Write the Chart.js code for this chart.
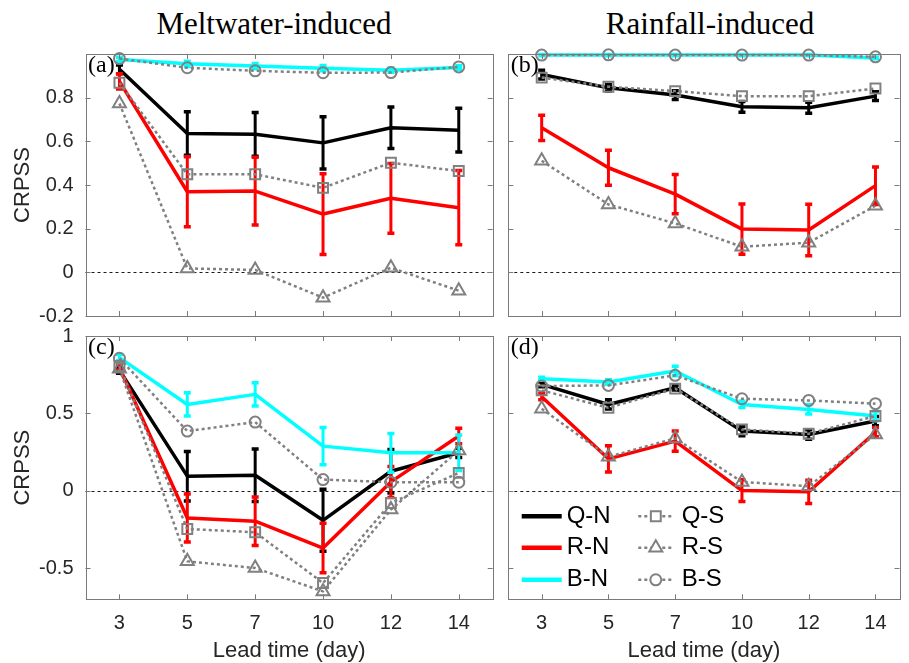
<!DOCTYPE html>
<html>
<head>
<meta charset="utf-8">
<script src="https://cdn.jsdelivr.net/npm/chart.js@4.4.1/dist/chart.umd.min.js"></script>
<style>
html,body{margin:0;padding:0;background:#fff;}
#wrap{position:relative;width:909px;height:663px;overflow:hidden;background:#fff;}
canvas{position:absolute;left:0;top:0;pointer-events:none;}
.ttl{position:absolute;font-family:"Liberation Serif","Times New Roman",serif;font-size:31px;line-height:31px;color:#000;white-space:nowrap;transform:translateX(-50%);}
</style>
</head>
<body>
<div id="wrap">
<div class="ttl" style="left:274px;top:8px">Meltwater-induced</div>
<div class="ttl" style="left:710px;top:8px">Rainfall-induced</div>
<canvas id="ca" width="909" height="663"></canvas>
<canvas id="cb" width="909" height="663"></canvas>
<canvas id="cc" width="909" height="663"></canvas>
<canvas id="cd" width="909" height="663"></canvas>
</div>
<script>
// ---------------- DATA ----------------
const leadTimes = ['3', '5', '7', '10', '12', '14'];
const seriesNames = ['Q-N', 'R-N', 'B-N', 'Q-S', 'R-S', 'B-S'];
const ticksUpper = [-0.2, 0, 0.2, 0.4, 0.6, 0.8];
const ticksLower = [-0.5, 0, 0.5, 1];

// (a) Meltwater-induced, upper
const aQN = [0.93, 0.636, 0.632, 0.593, 0.662, 0.651];
const aQN_err = [0.02, 0.10, 0.10, 0.12, 0.095, 0.10];
const aRN = [0.875, 0.369, 0.372, 0.267, 0.339, 0.296];
const aRN_err = [0.035, 0.16, 0.155, 0.185, 0.16, 0.17];
const aBN = [0.975, 0.955, 0.945, 0.935, 0.926, 0.938];
const aBN_err = [0.01, 0.012, 0.012, 0.012, 0.01, 0.008];
const aQS = [0.868, 0.449, 0.449, 0.387, 0.502, 0.464];
const aRS = [0.773, 0.018, 0.011, -0.116, 0.021, -0.084];
const aBS = [0.979, 0.937, 0.923, 0.914, 0.915, 0.941];

// (b) Rainfall-induced, upper
const bQN = [0.906, 0.845, 0.812, 0.758, 0.754, 0.807];
const bQN_err = [0.02, 0.015, 0.02, 0.025, 0.025, 0.02];
const bRN = [0.662, 0.479, 0.358, 0.198, 0.194, 0.397];
const bRN_err = [0.058, 0.08, 0.09, 0.115, 0.118, 0.086];
const bBN = [0.995, 0.995, 0.995, 0.995, 0.995, 0.982];
const bBN_err = [0.003, 0.003, 0.003, 0.003, 0.003, 0.004];
const bQS = [0.892, 0.85, 0.83, 0.807, 0.807, 0.842];
const bRS = [0.511, 0.311, 0.224, 0.117, 0.136, 0.305];
const bBS = [0.995, 0.996, 0.995, 0.995, 0.995, 0.987];

// (c) Meltwater-induced, lower
const cQN = [0.78, 0.095, 0.101, -0.19, 0.127, 0.246];
const cQN_err = [0.02, 0.16, 0.17, 0.2, 0.14, 0.03];
const cRN = [0.796, -0.175, -0.196, -0.369, 0.058, 0.354];
const cRN_err = [0.02, 0.155, 0.156, 0.16, 0.1, 0.05];
const cBN = [0.86, 0.558, 0.623, 0.289, 0.246, 0.246];
const cBN_err = [0.02, 0.075, 0.075, 0.12, 0.125, 0.115];
const cQS = [0.806, -0.246, -0.267, -0.595, -0.078, 0.116];
const cRS = [0.789, -0.455, -0.498, -0.649, -0.121, 0.261];
const cBS = [0.856, 0.386, 0.444, 0.073, 0.056, 0.056];

// (d) Rainfall-induced, lower
const dQN = [0.688, 0.558, 0.666, 0.386, 0.364, 0.451];
const dQN_err = [0.015, 0.03, 0.015, 0.03, 0.03, 0.03];
const dRN = [0.608, 0.207, 0.321, 0.002, -0.006, 0.379];
const dRN_err = [0.02, 0.085, 0.065, 0.07, 0.075, 0.03];
const dBN = [0.724, 0.703, 0.774, 0.558, 0.526, 0.483];
const dBN_err = [0.01, 0.015, 0.03, 0.02, 0.03, 0.03];
const dQS = [0.649, 0.537, 0.66, 0.397, 0.369, 0.483];
const dRS = [0.53, 0.22, 0.339, 0.058, 0.03, 0.364];
const dBS = [0.677, 0.681, 0.746, 0.595, 0.584, 0.563];

// ---------------- STYLES ----------------
const GRAY = '#808080';
const STYLES = [
  {color: '#000000', width: 3.5, dash: []},
  {color: '#ff0000', width: 3.5, dash: []},
  {color: '#00ffff', width: 3.5, dash: []},
  {color: GRAY, width: 2.5, dash: [3, 3], marker: 'rect', radius: 7},
  {color: GRAY, width: 2.5, dash: [3, 3], marker: 'triangle', radius: 7.5},
  {color: GRAY, width: 2.5, dash: [3, 3], marker: 'circle', radius: 5.5}
];
const SANS = '"Liberation Sans", Arial, sans-serif';
const SERIF = '"Liberation Serif", "Times New Roman", serif';
Chart.defaults.font.family = SANS;
Chart.defaults.color = '#262626';

const W = 909, H = 663;

// ---------------- PLUGINS ----------------
const errorBars = {
  id: 'errorBars',
  afterDatasetDraw(chart, args) {
    const ds = chart.data.datasets[args.index];
    if (!ds.errors) return;
    const {ctx} = chart;
    const xs = chart.scales.x, ys = chart.scales.y;
    ctx.save();
    ctx.strokeStyle = ds.borderColor;
    ctx.lineCap = 'butt';
    ds.data.forEach((p, j) => {
      const e = ds.errors[j];
      const px = xs.getPixelForValue(p.x);
      const y1 = ys.getPixelForValue(p.y - e);
      const y2 = ys.getPixelForValue(p.y + e);
      ctx.lineWidth = 3;
      ctx.beginPath();
      ctx.moveTo(px, y1); ctx.lineTo(px, y2);
      ctx.stroke();
      ctx.lineWidth = 3.5;
      ctx.beginPath();
      ctx.moveTo(px - 3.5, y1); ctx.lineTo(px + 3.5, y1);
      ctx.moveTo(px - 3.5, y2); ctx.lineTo(px + 3.5, y2);
      ctx.stroke();
    });
    ctx.restore();
  }
};

const frame = {
  id: 'frame',
  beforeDatasetsDraw(chart) {
    const {ctx, chartArea: a} = chart;
    const y0 = Math.round(chart.scales.y.getPixelForValue(0)) + 0.5;
    ctx.save();
    ctx.strokeStyle = '#1a1a1a';
    ctx.lineWidth = 1;
    ctx.setLineDash([3, 3]);
    ctx.beginPath();
    ctx.moveTo(a.left, y0); ctx.lineTo(a.right, y0);
    ctx.stroke();
    ctx.restore();
  },
  afterDraw(chart, args, opts) {
    const {ctx, chartArea: a} = chart;
    const xs = chart.scales.x, ys = chart.scales.y;
    ctx.save();
    ctx.strokeStyle = '#7a7a7a';
    ctx.lineWidth = 1;
    ctx.strokeRect(Math.round(a.left) + 0.5, Math.round(a.top) + 0.5,
      Math.round(a.right) - Math.round(a.left), Math.round(a.bottom) - Math.round(a.top));
    const TL = 5;
    ctx.beginPath();
    xs.ticks.forEach(t => {
      const px = Math.round(xs.getPixelForValue(t.value)) + 0.5;
      ctx.moveTo(px, a.top); ctx.lineTo(px, a.top + TL);
      ctx.moveTo(px, a.bottom); ctx.lineTo(px, a.bottom - TL);
    });
    ys.ticks.forEach(t => {
      const py = Math.round(ys.getPixelForValue(t.value)) + 0.5;
      ctx.moveTo(a.left, py); ctx.lineTo(a.left + TL, py);
      ctx.moveTo(a.right, py); ctx.lineTo(a.right - TL, py);
    });
    ctx.stroke();
    // panel label
    ctx.fillStyle = '#000';
    ctx.font = '24px ' + SERIF;
    ctx.textBaseline = 'alphabetic';
    ctx.textAlign = 'left';
    ctx.fillText(opts.label, a.left + 2.5, a.top + 18);
    // legend
    if (opts.legend) {
      const rows = [a.bottom - 83, a.bottom - 51.5, a.bottom - 19.5];
      ctx.font = '24px ' + SANS;
      ctx.textBaseline = 'middle';
      chart.data.datasets.forEach((ds, i) => {
        const st = STYLES[i];
        const col = Math.floor(i / 3), row = i % 3;
        const y = rows[row];
        const x0 = a.left + (col === 0 ? 13.4 : 130);
        const x1 = a.left + (col === 0 ? 53.4 : 165);
        ctx.save();
        ctx.strokeStyle = st.color;
        ctx.lineWidth = col === 0 ? 4.5 : 2.5;
        ctx.setLineDash(st.dash);
        ctx.beginPath();
        ctx.moveTo(x0, y); ctx.lineTo(x1, y);
        ctx.stroke();
        ctx.restore();
        if (st.marker) {
          ctx.save();
          ctx.strokeStyle = st.color;
          ctx.fillStyle = '#ffffff';
          ctx.lineWidth = 2;
          Chart.helpers.drawPoint(ctx, {pointStyle: st.marker, radius: st.radius, rotation: 0, borderWidth: 2}, (x0 + x1) / 2, y);
          ctx.restore();
        }
        ctx.fillStyle = '#000';
        ctx.fillText(ds.label, a.left + (col === 0 ? 58.4 : 173.4), y);
      });
    }
    ctx.restore();
  }
};

function fmtTick(v) {
  return String(Math.round(v * 10) / 10);
}

function makeChart(id, p) {
  const ds = seriesNames.map((name, i) => {
    const st = STYLES[i];
    return {
      label: name,
      data: p.vals[i].map((v, j) => ({x: j + 1, y: v})),
      errors: i < 3 ? p.errs[i] : null,
      borderColor: st.color,
      backgroundColor: 'rgba(0,0,0,0)',
      borderWidth: st.width,
      borderDash: st.dash,
      borderJoinStyle: 'round',
      pointStyle: st.marker || 'circle',
      pointRadius: st.marker ? st.radius : 0,
      pointHoverRadius: st.marker ? st.radius : 0,
      pointBorderWidth: 2,
      pointBorderColor: st.color,
      pointBackgroundColor: 'rgba(0,0,0,0)',
      tension: 0,
      clip: false,
      order: 6 - i
    };
  });
  const r = p.area;
  new Chart(document.getElementById(id), {
    type: 'line',
    data: {datasets: ds},
    plugins: [errorBars, frame],
    options: {
      responsive: false,
      animation: false,
      devicePixelRatio: 1,
      events: [],
      layout: {padding: {left: r.l - p.yW, top: r.t, right: W - r.r, bottom: H - r.b - p.xH}},
      plugins: {
        legend: {display: false},
        tooltip: {enabled: false},
        frame: {label: p.label, legend: !!p.legend}
      },
      scales: {
        x: {
          type: 'linear',
          min: 0.5,
          max: p.xmax,
          afterBuildTicks: s => { s.ticks = leadTimes.map((_, i) => ({value: i + 1})); },
          afterFit: s => { s.height = p.xH; },
          grid: {display: false, drawTicks: false},
          border: {display: false},
          ticks: {
            display: p.showX,
            autoSkip: false,
            maxRotation: 0,
            padding: 11.7,
            color: '#262626',
            font: {size: 20, family: SANS},
            callback: v => leadTimes[Math.round(v) - 1]
          },
          title: {
            display: p.showX,
            text: 'Lead time (day)',
            color: '#262626',
            font: {size: 22, family: SANS, lineHeight: 1.1},
            padding: {top: 0, bottom: 0}
          }
        },
        y: {
          min: p.ymin,
          max: 1,
          afterBuildTicks: s => { s.ticks = p.yticks.map(v => ({value: v})); },
          afterFit: s => { s.width = p.yW; },
          grid: {display: false, drawTicks: false},
          border: {display: false},
          ticks: {
            display: p.showY,
            padding: 12,
            color: '#262626',
            font: {size: 20, family: SANS},
            callback: v => fmtTick(v)
          },
          title: {
            display: p.showY,
            text: 'CRPSS',
            color: '#262626',
            font: {size: 22, family: SANS, lineHeight: 1.1},
            padding: {top: 10.4, bottom: 0}
          }
        }
      }
    }
  });
}

makeChart('ca', {
  vals: [aQN, aRN, aBN, aQS, aRS, aBS], errs: [aQN_err, aRN_err, aBN_err],
  area: {l: 85.5, t: 54, r: 492.7, b: 316}, yW: 85.5, xH: 0, xmax: 6.5,
  ymin: -0.2, yticks: ticksUpper, showX: false, showY: true, label: '(a)'
});
makeChart('cb', {
  vals: [bQN, bRN, bBN, bQS, bRS, bBS], errs: [bQN_err, bRN_err, bBN_err],
  area: {l: 508.3, t: 54, r: 906.7, b: 316}, yW: 0, xH: 0, xmax: 6.36,
  ymin: -0.2, yticks: ticksUpper, showX: false, showY: false, label: '(b)'
});
makeChart('cc', {
  vals: [cQN, cRN, cBN, cQS, cRS, cBS], errs: [cQN_err, cRN_err, cBN_err],
  area: {l: 85.5, t: 336, r: 492.7, b: 599.3}, yW: 85.5, xH: 63.7, xmax: 6.5,
  ymin: -0.7, yticks: ticksLower, showX: true, showY: true, label: '(c)'
});
makeChart('cd', {
  vals: [dQN, dRN, dBN, dQS, dRS, dBS], errs: [dQN_err, dRN_err, dBN_err],
  area: {l: 508.3, t: 336, r: 906.7, b: 599.3}, yW: 0, xH: 63.7, xmax: 6.36,
  ymin: -0.7, yticks: ticksLower, showX: true, showY: false, label: '(d)', legend: true
});
</script>
</body>
</html>
